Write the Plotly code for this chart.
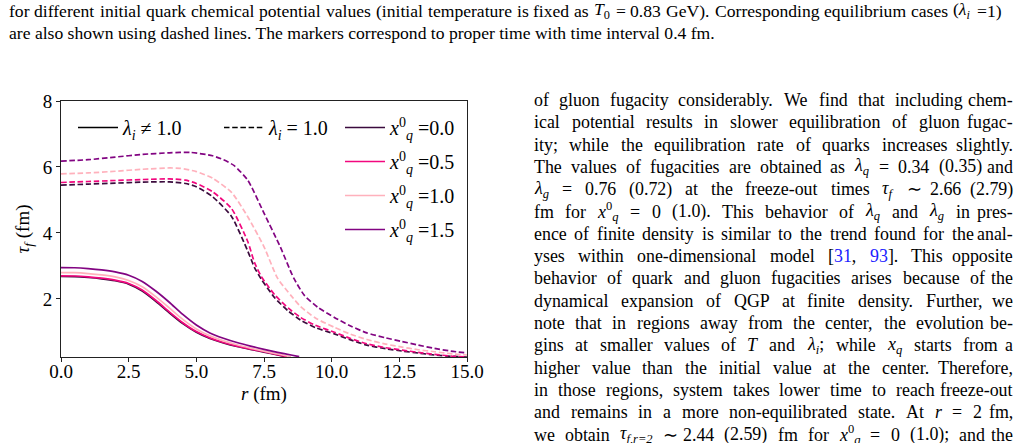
import re
import plotly.graph_objects as go

W, H = 1029, 443

# ---------------- data ----------------
# Solid: lambda_i != 1  (tau_f vs r)
r_s00 = [0, 0.5, 1, 1.5, 2, 2.5, 3, 3.5, 4, 4.5, 5, 5.5, 6, 6.5, 7, 7.5, 8, 8.3]
t_s00 = [2.68, 2.675, 2.65, 2.61, 2.55, 2.45, 2.24, 1.93, 1.58, 1.25, 0.99, 0.80, 0.67, 0.56, 0.47, 0.39, 0.30, 0.25]
r_s05 = [0, 0.5, 1, 1.5, 2, 2.5, 3, 3.5, 4, 4.5, 5, 5.5, 6, 6.5, 7, 7.5, 8, 8.35]
t_s05 = [2.70, 2.695, 2.67, 2.63, 2.57, 2.47, 2.27, 1.96, 1.61, 1.28, 1.01, 0.82, 0.68, 0.57, 0.48, 0.40, 0.31, 0.25]
r_s10 = [0, 0.5, 1, 1.5, 2, 2.5, 3, 3.5, 4, 4.5, 5, 5.5, 6, 6.5, 7, 7.5, 8, 8.5]
t_s10 = [2.80, 2.795, 2.77, 2.73, 2.67, 2.56, 2.37, 2.07, 1.73, 1.38, 1.09, 0.88, 0.73, 0.61, 0.51, 0.42, 0.33, 0.25]
r_s15 = [0, 0.5, 1, 1.5, 2, 2.5, 3, 3.5, 4, 4.5, 5, 5.5, 6, 6.5, 7, 7.5, 8, 8.5, 8.8]
t_s15 = [2.95, 2.945, 2.92, 2.88, 2.82, 2.72, 2.53, 2.24, 1.90, 1.53, 1.21, 0.97, 0.81, 0.68, 0.57, 0.47, 0.38, 0.30, 0.25]

# Dashed: lambda_i = 1 (equilibrium)
r_d00 = [0, 1, 2, 3, 4, 4.6, 5.0, 5.6, 6.3, 6.9, 7.15, 7.4, 7.9, 8.4, 8.85, 9.4, 10.1, 10.7, 11.3, 12.0, 12.6, 13.2, 13.8, 14.4, 15]
t_d00 = [5.45, 5.48, 5.51, 5.54, 5.55, 5.50, 5.40, 5.10, 4.50, 3.45, 2.95, 2.60, 2.03, 1.63, 1.36, 1.13, 0.94, 0.76, 0.60, 0.49, 0.42, 0.36, 0.30, 0.26, 0.24]
r_d05 = [0, 1, 2, 3, 4, 4.6, 5.0, 5.6, 6.3, 6.9, 7.15, 7.4, 7.9, 8.4, 8.85, 9.4, 10.1, 10.7, 11.3, 12.0, 12.6, 13.2, 13.8, 14.4, 15]
t_d05 = [5.53, 5.56, 5.59, 5.62, 5.64, 5.60, 5.50, 5.25, 4.74, 3.74, 3.10, 2.68, 2.12, 1.72, 1.44, 1.20, 0.99, 0.80, 0.64, 0.52, 0.45, 0.38, 0.32, 0.27, 0.24]
r_d10 = [0, 1, 2, 3, 4, 4.4, 5.0, 5.6, 6.3, 6.9, 7.5, 8.0, 8.5, 8.85, 9.4, 10.1, 10.7, 11.3, 12.0, 12.6, 13.2, 13.8, 14.4, 15]
t_d10 = [5.79, 5.82, 5.87, 5.93, 5.97, 5.96, 5.86, 5.66, 5.23, 4.49, 3.58, 2.63, 2.10, 1.77, 1.42, 1.14, 0.93, 0.77, 0.63, 0.54, 0.46, 0.40, 0.34, 0.30]
r_d15 = [0, 1, 2, 3, 4, 4.8, 5.6, 6.0, 6.4, 6.9, 7.5, 8.1, 8.6, 9.0, 9.5, 10.1, 10.7, 11.3, 12.0, 12.6, 13.2, 13.8, 14.4, 15]
t_d15 = [6.18, 6.22, 6.30, 6.38, 6.43, 6.44, 6.34, 6.22, 6.04, 5.60, 4.60, 3.58, 2.63, 2.10, 1.74, 1.44, 1.18, 0.97, 0.82, 0.71, 0.60, 0.50, 0.42, 0.36]

xq_labels = ["0.0", "0.5", "1.0", "1.5"]
colors = ["#3b0b3d", "#f2077e", "#ffb1bc", "#820482"]

x_ticks = [0, 2.5, 5, 7.5, 10, 12.5, 15]
x_ticktext = ["0.0", "2.5", "5.0", "7.5", "10.0", "12.5", "15.0"]
y_ticks = [2, 4, 6, 8]

solid = [(r_s00, t_s00), (r_s05, t_s05), (r_s10, t_s10), (r_s15, t_s15)]
dashed = [(r_d00, t_d00), (r_d05, t_d05), (r_d10, t_d10), (r_d15, t_d15)]

# surrounding page text ({b}..{/b} = blue citation)
caption = [
    "for different initial quark chemical potential values (initial temperature is fixed as <i>T</i><sub>0</sub> = 0.83 GeV). Corresponding equilibrium cases (<i>λ<sub>i</sub></i> = 1)",
    "are also shown using dashed lines. The markers correspond to proper time with time interval 0.4 fm.",
]
body = [
    "of gluon fugacity considerably. We find that including chem-",
    "ical potential results in slower equilibration of gluon fugac-",
    "ity; while the equilibration rate of quarks increases slightly.",
    "The values of fugacities are obtained as <i>λ<sub>q</sub></i> = 0.34 (0.35) and",
    "<i>λ<sub>g</sub></i> = 0.76 (0.72) at the freeze-out times <i>τ<sub>f</sub></i> ∼ 2.66 (2.79)",
    "fm for <i>x</i><sup>0</sup><sub><i>q</i></sub> = 0 (1.0). This behavior of <i>λ<sub>q</sub></i> and <i>λ<sub>g</sub></i> in pres-",
    "ence of finite density is similar to the trend found for the anal-",
    "yses within one-dimensional model [{b}31{/b}, {b}93{/b}]. This opposite",
    "behavior of quark and gluon fugacities arises because of the",
    "dynamical expansion of QGP at finite density. Further, we",
    "note that in regions away from the center, the evolution be-",
    "gins at smaller values of <i>T</i> and <i>λ<sub>i</sub></i>; while <i>x<sub>q</sub></i> starts from a",
    "higher value than the initial value at the center. Therefore,",
    "in those regions, system takes lower time to reach freeze-out",
    "and remains in a more non-equilibrated state. At <i>r</i> = 2 fm,",
    "we obtain <i>τ<sub>f,r=2</sub></i> ∼ 2.44 (2.59) fm for <i>x</i><sup>0</sup><sub><i>q</i></sub> = 0 (1.0); and the",
]

# ---------------- text width estimate (Times metrics, per 1000 em) ----------------
TW = {' ': 250, '!': 333, ',': 250, '-': 333, '.': 250, '/': 278, ':': 278, ';': 278, '(': 333, ')': 333,
      '[': 333, ']': 333, '=': 564, '∼': 541, '≠': 549, 'λ': 520, 'τ': 450,
      'A': 722, 'B': 667, 'C': 667, 'D': 722, 'E': 611, 'F': 556, 'G': 722, 'H': 722, 'I': 333, 'J': 389,
      'K': 722, 'L': 611, 'M': 889, 'N': 722, 'O': 722, 'P': 556, 'Q': 722, 'R': 667, 'S': 556, 'T': 611,
      'U': 722, 'V': 722, 'W': 944, 'X': 722, 'Y': 722, 'Z': 611,
      'a': 444, 'b': 500, 'c': 444, 'd': 500, 'e': 444, 'f': 333, 'g': 500, 'h': 500, 'i': 278, 'j': 278,
      'k': 500, 'l': 278, 'm': 778, 'n': 500, 'o': 500, 'p': 500, 'q': 500, 'r': 333, 's': 389, 't': 278,
      'u': 500, 'v': 500, 'w': 722, 'x': 500, 'y': 500, 'z': 444}


def text_em(s):
    s = s.replace("{b}", "").replace("{/b}", "")
    total, scale = 0.0, 1.0
    for part in re.split(r"(<[^>]+>)", s):
        if part.startswith("<"):
            tag = part.strip("<>/").split()[0]
            if tag in ("sub", "sup"):
                scale = 1.0 if part.startswith("</") else 0.7
            continue
        for ch in part:
            total += TW.get(ch, 500 if ch.isdigit() else 480) * scale
    return total / 1000.0


def fix_blue(s):
    return s.replace("{b}", "<span style='color:#2020ff'>").replace("{/b}", "</span>")


FONT = "Liberation Serif, Times New Roman, serif"
annotations = []


def add_line(text, left, right, yc, size, justify=True):
    yp = (H - yc) / H
    if not justify:
        annotations.append(dict(text=fix_blue(text), x=left / W, y=yp, xanchor="left", size=size))
        return
    words = text.split(" ")
    widths = [text_em(w) * size for w in words]
    gap = (right - left - sum(widths)) / max(len(words) - 1, 1)
    xpos = left
    for i, (w, wd) in enumerate(zip(words, widths)):
        if i == len(words) - 1:
            annotations.append(dict(text=fix_blue(w), x=right / W, y=yp, xanchor="right", size=size))
        else:
            annotations.append(dict(text=fix_blue(w), x=xpos / W, y=yp, xanchor="left", size=size))
        xpos += wd + gap


CAP_SIZE, BODY_SIZE = 17.6, 17.9
add_line(caption[0], 7, 1004, 11, CAP_SIZE, True)
add_line(caption[1], 7, 1004, 32.5, CAP_SIZE, False)
for i, line in enumerate(body):
    add_line(line, 532, 1015, 100 + 22.3 * i, BODY_SIZE, True)

# ---------------- figure ----------------
fig = go.Figure()

for (r, t), c in zip(dashed, colors):
    fig.add_trace(go.Scatter(x=r, y=t, mode="lines",
                             line=dict(color=c, width=1.7, dash="5.5px,2.7px", shape="spline", smoothing=0.6),
                             showlegend=False, hoverinfo="skip"))
for (r, t), c, lab in zip(solid, colors, xq_labels):
    fig.add_trace(go.Scatter(x=r, y=t, mode="lines", line=dict(color=c, width=1.7, shape="spline", smoothing=0.6),
                             name="<i>x</i><sup>0</sup><sub><i>q</i></sub> =" + lab, legend="legend2",
                             legendgroup=lab, hoverinfo="skip"))

fig.add_trace(go.Scatter(x=[None], y=[None], mode="lines", line=dict(color="black", width=1.7),
                         name="<i>λ<sub>i</sub></i> ≠ 1.0", legend="legend"))
fig.add_trace(go.Scatter(x=[None], y=[None], mode="lines", line=dict(color="black", width=1.7, dash="5.5px,2.7px"),
                         name="<i>λ<sub>i</sub></i> = 1.0", legend="legend"))

x0, x1 = 61 / W, 467 / W
y0, y1 = (H - 357) / H, (H - 101) / H

axis_common = dict(showline=True, linecolor="#222", linewidth=1, mirror=True, ticks="outside", ticklen=4,
                   tickwidth=1, tickcolor="#222", showgrid=False, zeroline=False,
                   tickfont=dict(family=FONT, size=19, color="black"))

fig.update_layout(
    width=W, height=H, autosize=False,
    margin=dict(l=0, r=0, t=0, b=0, autoexpand=False),
    paper_bgcolor="white", plot_bgcolor="white",
    font=dict(family=FONT, size=19, color="black"),
    xaxis=dict(domain=[x0, x1], range=[0, 15], tickvals=x_ticks, ticktext=x_ticktext, automargin=False,
               ticklabelstandoff=-7,
               title=dict(text="<i>r</i> (fm)", standoff=5, font=dict(family=FONT, size=19)), **axis_common),
    yaxis=dict(domain=[y0, y1], range=[0.24, 8], tickvals=y_ticks, automargin=False,
               title=dict(text="<i>τ<sub>f</sub></i> (fm)", standoff=8, font=dict(family=FONT, size=19)), **axis_common),
    legend=dict(orientation="h", x=73 / W, y=(H - 108) / H, xanchor="left", yanchor="top",
                bgcolor="rgba(0,0,0,0)", font=dict(family=FONT, size=20), entrywidth=91,
                entrywidthmode="pixels", itemwidth=40),
    legend2=dict(orientation="v", x=340 / W, y=(H - 108) / H, xanchor="left", yanchor="top",
                 bgcolor="rgba(0,0,0,0)", font=dict(family=FONT, size=20), tracegroupgap=5, itemwidth=40),
)

for a in annotations:
    fig.add_annotation(text=a["text"], xref="paper", yref="paper", x=a["x"], y=a["y"],
                       xanchor=a["xanchor"], yanchor="middle", showarrow=False, align="left",
                       font=dict(family=FONT, size=a["size"], color="black"))

fig.write_html("out.html")
